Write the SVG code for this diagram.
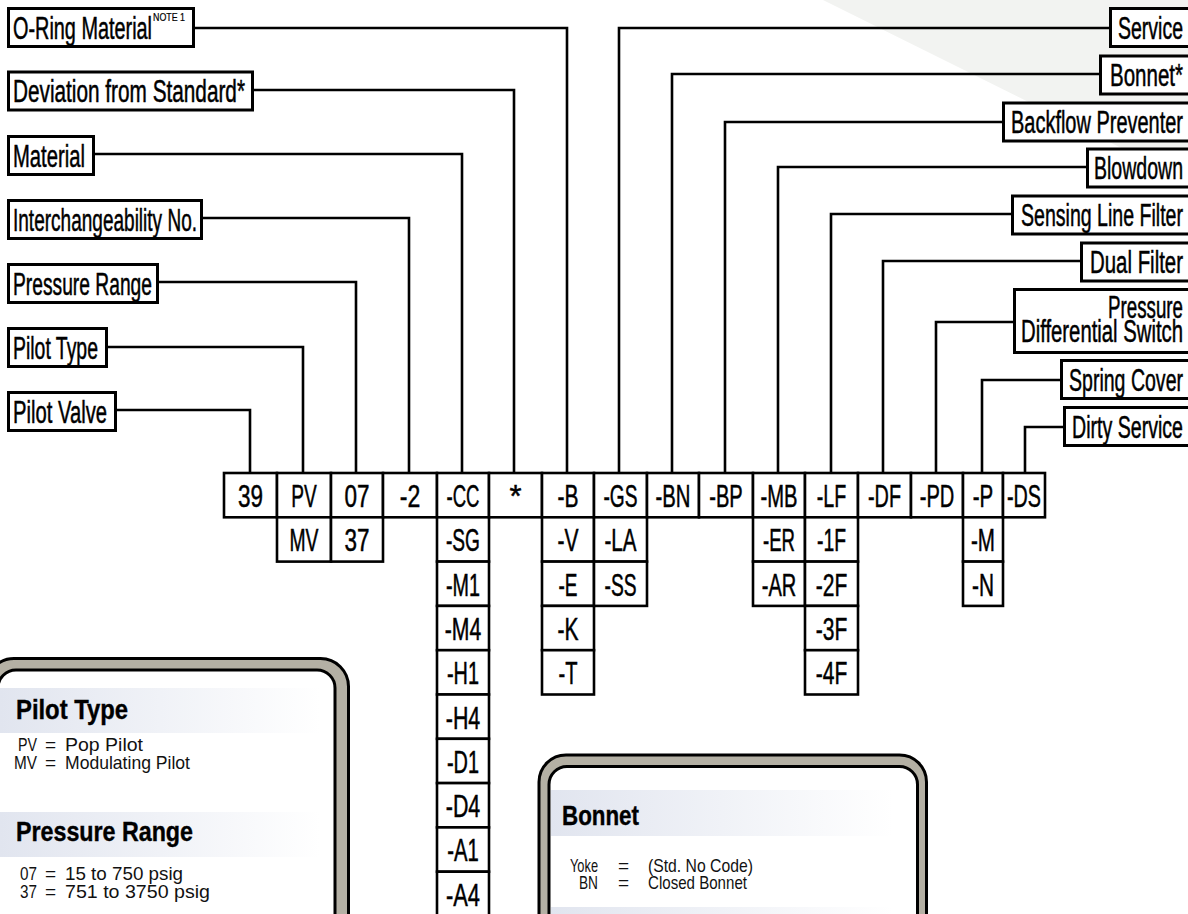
<svg xmlns="http://www.w3.org/2000/svg" width="1188" height="914" viewBox="0 0 1188 914">
<defs>
<style>
.box{fill:#fff;stroke:#000;stroke-width:3}
.t{font-family:"Liberation Sans Narrow","Liberation Sans",Arial,sans-serif;font-size:31px;fill:#000;stroke:#000;stroke-width:0.5}
.tr{text-anchor:end}
.sup{font-size:10px;stroke-width:0.2}
.cell{fill:#fff;stroke:#000;stroke-width:2.6}
.ct{font-family:"Liberation Sans Narrow","Liberation Sans",Arial,sans-serif;font-size:31px;fill:#000;stroke:#000;stroke-width:0.5;text-anchor:middle}
.conn{fill:none;stroke:#000;stroke-width:2.6}
.frame{fill:#b4b0a4;stroke:#000;stroke-width:3}
.inner{fill:#fff;stroke:#000;stroke-width:3}
.h{font-family:"Liberation Sans","Liberation Sans Narrow",Arial,sans-serif;font-weight:bold;font-size:27px;fill:#000;stroke:#000;stroke-width:0.4}
.b{font-family:"Liberation Sans Narrow","Liberation Sans",Arial,sans-serif;font-size:19px;fill:#111}
.e{text-anchor:end}
</style>
<linearGradient id="band" x1="0" y1="0" x2="1" y2="0">
<stop offset="0" stop-color="#e1e5ef"/>
<stop offset="1" stop-color="#ffffff"/>
</linearGradient>
</defs>
<rect x="0" y="0" width="1188" height="914" fill="#fff"/>
<polygon points="823,0 1188,0 1188,181" fill="#f2f3f1"/>

<g id="connectors">
<path class="conn" d="M195,28 H567 V473"/>
<path class="conn" d="M254,90 H514 V473"/>
<path class="conn" d="M95,154 H462 V473"/>
<path class="conn" d="M203,218 H409 V473"/>
<path class="conn" d="M159,282 H356 V473"/>
<path class="conn" d="M108,347 H303 V473"/>
<path class="conn" d="M117,410 H250 V473"/>
<path class="conn" d="M1109,28 H619 V473"/>
<path class="conn" d="M1099,74 H672 V473"/>
<path class="conn" d="M1002,122 H725 V473"/>
<path class="conn" d="M1086,167 H778 V473"/>
<path class="conn" d="M1011,214 H831 V473"/>
<path class="conn" d="M1080,261 H883 V473"/>
<path class="conn" d="M1013,322 H936 V473"/>
<path class="conn" d="M1060,380 H982 V473"/>
<path class="conn" d="M1063,427 H1025 V473"/>
</g>

<g id="lbl-oring"><rect class="box" x="8.5" y="8.5" width="185" height="38"/><text class="t" x="13" y="38.5" textLength="139" lengthAdjust="spacingAndGlyphs">O-Ring Material</text><text class="t sup" x="153" y="21" textLength="32" lengthAdjust="spacingAndGlyphs">NOTE 1</text></g>
<g id="lbl-deviation"><rect class="box" x="8.5" y="72" width="244" height="38"/><text class="t" x="13" y="102" textLength="232" lengthAdjust="spacingAndGlyphs">Deviation from Standard*</text></g>
<g id="lbl-material"><rect class="box" x="8.5" y="136.5" width="85" height="38"/><text class="t" x="13" y="166.5" textLength="72" lengthAdjust="spacingAndGlyphs">Material</text></g>
<g id="lbl-interch"><rect class="box" x="8.5" y="200.5" width="193" height="38"/><text class="t" x="13" y="230.5" textLength="184" lengthAdjust="spacingAndGlyphs">Interchangeability No.</text></g>
<g id="lbl-prange"><rect class="box" x="8.5" y="264.5" width="149" height="38"/><text class="t" x="13" y="294.5" textLength="139" lengthAdjust="spacingAndGlyphs">Pressure Range</text></g>
<g id="lbl-ptype"><rect class="box" x="8.5" y="328.5" width="98" height="38"/><text class="t" x="13" y="358.5" textLength="85" lengthAdjust="spacingAndGlyphs">Pilot Type</text></g>
<g id="lbl-pvalve"><rect class="box" x="8.5" y="392.5" width="107" height="38"/><text class="t" x="13" y="422.5" textLength="94" lengthAdjust="spacingAndGlyphs">Pilot Valve</text></g>

<g id="lbl-service"><rect class="box" x="1110.5" y="8.5" width="90" height="38"/><text class="t tr" x="1183" y="39" textLength="65" lengthAdjust="spacingAndGlyphs">Service</text></g>
<g id="lbl-bonnet"><rect class="box" x="1100.5" y="56" width="100" height="38"/><text class="t tr" x="1183" y="86" textLength="73" lengthAdjust="spacingAndGlyphs">Bonnet*</text></g>
<g id="lbl-backflow"><rect class="box" x="1003.5" y="103" width="197" height="38"/><text class="t tr" x="1183" y="133" textLength="172" lengthAdjust="spacingAndGlyphs">Backflow Preventer</text></g>
<g id="lbl-blowdown"><rect class="box" x="1087.5" y="149" width="113" height="38"/><text class="t tr" x="1183" y="179" textLength="89" lengthAdjust="spacingAndGlyphs">Blowdown</text></g>
<g id="lbl-sensing"><rect class="box" x="1012.5" y="196" width="188" height="38"/><text class="t tr" x="1183" y="226" textLength="162" lengthAdjust="spacingAndGlyphs">Sensing Line Filter</text></g>
<g id="lbl-dual"><rect class="box" x="1081.5" y="243" width="119" height="38"/><text class="t tr" x="1183" y="273" textLength="93" lengthAdjust="spacingAndGlyphs">Dual Filter</text></g>
<g id="lbl-pds"><rect class="box" x="1014.5" y="289.5" width="186" height="63"/><text class="t tr" x="1183" y="318" font-size="27" textLength="75" lengthAdjust="spacingAndGlyphs">Pressure</text><text class="t tr" x="1183" y="342" font-size="27" textLength="162" lengthAdjust="spacingAndGlyphs">Differential Switch</text></g>
<g id="lbl-spring"><rect class="box" x="1061.5" y="360.5" width="139" height="38"/><text class="t tr" x="1183" y="391" textLength="114" lengthAdjust="spacingAndGlyphs">Spring Cover</text></g>
<g id="lbl-dirty"><rect class="box" x="1064.5" y="407.5" width="136" height="38"/><text class="t tr" x="1183" y="438" textLength="111" lengthAdjust="spacingAndGlyphs">Dirty Service</text></g>

<g id="col-39"><rect class="cell" x="224" y="473" width="53" height="44.3"/><text class="ct" x="250.5" y="507" textLength="25" lengthAdjust="spacingAndGlyphs">39</text></g>
<g id="col-pilottype"><rect class="cell" x="277" y="473" width="54" height="44.3"/><rect class="cell" x="277" y="517.3" width="54" height="44.3"/><text class="ct" x="304" y="507" textLength="25.5" lengthAdjust="spacingAndGlyphs">PV</text><text class="ct" x="304" y="551.3" textLength="29" lengthAdjust="spacingAndGlyphs">MV</text></g>
<g id="col-pressure"><rect class="cell" x="331" y="473" width="52" height="44.3"/><rect class="cell" x="331" y="517.3" width="52" height="44.3"/><text class="ct" x="357" y="507" textLength="25" lengthAdjust="spacingAndGlyphs">07</text><text class="ct" x="357" y="551.3" textLength="25" lengthAdjust="spacingAndGlyphs">37</text></g>
<g id="col-interch"><rect class="cell" x="383" y="473" width="54" height="44.3"/><text class="ct" x="410" y="507" textLength="20.5" lengthAdjust="spacingAndGlyphs">-2</text></g>
<g id="col-material">
<rect class="cell" x="437" y="473" width="52" height="44.3"/>
<rect class="cell" x="437" y="517.3" width="52" height="44.3"/>
<rect class="cell" x="437" y="561.6" width="52" height="44.3"/>
<rect class="cell" x="437" y="605.9" width="52" height="44.3"/>
<rect class="cell" x="437" y="650.2" width="52" height="44.3"/>
<rect class="cell" x="437" y="694.5" width="52" height="44.3"/>
<rect class="cell" x="437" y="738.8" width="52" height="44.3"/>
<rect class="cell" x="437" y="783.1" width="52" height="44.3"/>
<rect class="cell" x="437" y="827.4" width="52" height="44.3"/>
<rect class="cell" x="437" y="871.7" width="52" height="44.3"/>
<text class="ct" x="463" y="507" textLength="33" lengthAdjust="spacingAndGlyphs">-CC</text>
<text class="ct" x="463" y="551.3" textLength="34" lengthAdjust="spacingAndGlyphs">-SG</text>
<text class="ct" x="463" y="595.6" textLength="34" lengthAdjust="spacingAndGlyphs">-M1</text>
<text class="ct" x="463" y="639.9" textLength="36.5" lengthAdjust="spacingAndGlyphs">-M4</text>
<text class="ct" x="463" y="684.2" textLength="32" lengthAdjust="spacingAndGlyphs">-H1</text>
<text class="ct" x="463" y="728.5" textLength="34.5" lengthAdjust="spacingAndGlyphs">-H4</text>
<text class="ct" x="463" y="772.8" textLength="32" lengthAdjust="spacingAndGlyphs">-D1</text>
<text class="ct" x="463" y="817.1" textLength="34.5" lengthAdjust="spacingAndGlyphs">-D4</text>
<text class="ct" x="463" y="861.4" textLength="31.5" lengthAdjust="spacingAndGlyphs">-A1</text>
<text class="ct" x="463" y="905.7" textLength="34" lengthAdjust="spacingAndGlyphs">-A4</text>
</g>
<g id="col-deviation"><rect class="cell" x="489" y="473" width="53" height="44.3"/><text class="ct" x="515.5" y="507" font-size="26" stroke-width="0">*</text></g>
<g id="col-oring">
<rect class="cell" x="542" y="473" width="52" height="44.3"/>
<rect class="cell" x="542" y="517.3" width="52" height="44.3"/>
<rect class="cell" x="542" y="561.6" width="52" height="44.3"/>
<rect class="cell" x="542" y="605.9" width="52" height="44.3"/>
<rect class="cell" x="542" y="650.2" width="52" height="44.3"/>
<text class="ct" x="568" y="507" textLength="21" lengthAdjust="spacingAndGlyphs">-B</text>
<text class="ct" x="568" y="551.3" textLength="21" lengthAdjust="spacingAndGlyphs">-V</text>
<text class="ct" x="568" y="595.6" textLength="19" lengthAdjust="spacingAndGlyphs">-E</text>
<text class="ct" x="568" y="639.9" textLength="21" lengthAdjust="spacingAndGlyphs">-K</text>
<text class="ct" x="568" y="684.2" textLength="19" lengthAdjust="spacingAndGlyphs">-T</text>
</g>
<g id="col-service">
<rect class="cell" x="594" y="473" width="53" height="44.3"/>
<rect class="cell" x="594" y="517.3" width="53" height="44.3"/>
<rect class="cell" x="594" y="561.6" width="53" height="44.3"/>
<text class="ct" x="620.5" y="507" textLength="34" lengthAdjust="spacingAndGlyphs">-GS</text>
<text class="ct" x="620.5" y="551.3" textLength="32" lengthAdjust="spacingAndGlyphs">-LA</text>
<text class="ct" x="620.5" y="595.6" textLength="32" lengthAdjust="spacingAndGlyphs">-SS</text>
</g>
<g id="col-bonnet"><rect class="cell" x="647" y="473" width="52" height="44.3"/><text class="ct" x="673" y="507" textLength="35" lengthAdjust="spacingAndGlyphs">-BN</text></g>
<g id="col-backflow"><rect class="cell" x="699" y="473" width="54" height="44.3"/><text class="ct" x="726" y="507" textLength="33.5" lengthAdjust="spacingAndGlyphs">-BP</text></g>
<g id="col-blowdown">
<rect class="cell" x="753" y="473" width="52" height="44.3"/>
<rect class="cell" x="753" y="517.3" width="52" height="44.3"/>
<rect class="cell" x="753" y="561.6" width="52" height="44.3"/>
<text class="ct" x="779" y="507" textLength="37" lengthAdjust="spacingAndGlyphs">-MB</text>
<text class="ct" x="779" y="551.3" textLength="32" lengthAdjust="spacingAndGlyphs">-ER</text>
<text class="ct" x="779" y="595.6" textLength="34.5" lengthAdjust="spacingAndGlyphs">-AR</text>
</g>
<g id="col-sensing">
<rect class="cell" x="805" y="473" width="53" height="44.3"/>
<rect class="cell" x="805" y="517.3" width="53" height="44.3"/>
<rect class="cell" x="805" y="561.6" width="53" height="44.3"/>
<rect class="cell" x="805" y="605.9" width="53" height="44.3"/>
<rect class="cell" x="805" y="650.2" width="53" height="44.3"/>
<text class="ct" x="831.5" y="507" textLength="29.5" lengthAdjust="spacingAndGlyphs">-LF</text>
<text class="ct" x="831.5" y="551.3" textLength="29" lengthAdjust="spacingAndGlyphs">-1F</text>
<text class="ct" x="831.5" y="595.6" textLength="31.5" lengthAdjust="spacingAndGlyphs">-2F</text>
<text class="ct" x="831.5" y="639.9" textLength="31.5" lengthAdjust="spacingAndGlyphs">-3F</text>
<text class="ct" x="831.5" y="684.2" textLength="31.5" lengthAdjust="spacingAndGlyphs">-4F</text>
</g>
<g id="col-dual"><rect class="cell" x="858" y="473" width="53" height="44.3"/><text class="ct" x="884.5" y="507" textLength="33" lengthAdjust="spacingAndGlyphs">-DF</text></g>
<g id="col-pds"><rect class="cell" x="911" y="473" width="52" height="44.3"/><text class="ct" x="937" y="507" textLength="34.5" lengthAdjust="spacingAndGlyphs">-PD</text></g>
<g id="col-spring">
<rect class="cell" x="963" y="473" width="40" height="44.3"/>
<rect class="cell" x="963" y="517.3" width="40" height="44.3"/>
<rect class="cell" x="963" y="561.6" width="40" height="44.3"/>
<text class="ct" x="983" y="507" textLength="20.5" lengthAdjust="spacingAndGlyphs">-P</text>
<text class="ct" x="983" y="551.3" textLength="24" lengthAdjust="spacingAndGlyphs">-M</text>
<text class="ct" x="983" y="595.6" textLength="22" lengthAdjust="spacingAndGlyphs">-N</text>
</g>
<g id="col-dirty"><rect class="cell" x="1003" y="473" width="42" height="44.3"/><text class="ct" x="1024" y="507" textLength="34" lengthAdjust="spacingAndGlyphs">-DS</text></g>

<g id="legend-pilot">
<rect class="frame" x="-14" y="658.5" width="362.5" height="320" rx="28"/>
<rect class="inner" x="-2" y="670" width="337" height="320" rx="18"/>
<rect x="0" y="688" width="320" height="45" fill="url(#band)"/>
<rect x="0" y="812" width="320" height="45" fill="url(#band)"/>
<text class="h" x="16" y="719" textLength="112" lengthAdjust="spacingAndGlyphs">Pilot Type</text>
<text class="b e" x="37" y="751" textLength="19" lengthAdjust="spacingAndGlyphs">PV</text>
<text class="b" x="45" y="751">=</text>
<text class="b" x="65" y="751" textLength="78" lengthAdjust="spacingAndGlyphs">Pop Pilot</text>
<text class="b e" x="37" y="769" textLength="23" lengthAdjust="spacingAndGlyphs">MV</text>
<text class="b" x="45" y="769">=</text>
<text class="b" x="65" y="769" textLength="125" lengthAdjust="spacingAndGlyphs">Modulating Pilot</text>
<text class="h" x="16" y="841" textLength="177" lengthAdjust="spacingAndGlyphs">Pressure Range</text>
<text class="b e" x="37" y="880" textLength="17" lengthAdjust="spacingAndGlyphs">07</text>
<text class="b" x="45" y="880">=</text>
<text class="b" x="65" y="880" textLength="118" lengthAdjust="spacingAndGlyphs">15 to 750 psig</text>
<text class="b e" x="37" y="898" textLength="17" lengthAdjust="spacingAndGlyphs">37</text>
<text class="b" x="45" y="898">=</text>
<text class="b" x="65" y="898" textLength="145" lengthAdjust="spacingAndGlyphs">751 to 3750 psig</text>
</g>

<g id="legend-bonnet">
<rect class="frame" x="539" y="755" width="387.5" height="220" rx="27"/>
<rect class="inner" x="549" y="766.5" width="368.5" height="220" rx="18"/>
<rect x="551" y="790" width="342" height="46" fill="url(#band)"/>
<rect x="551" y="907" width="342" height="46" fill="url(#band)"/>
<text class="h" x="562" y="825" textLength="77" lengthAdjust="spacingAndGlyphs">Bonnet</text>
<text class="b e" x="598" y="872" textLength="28" lengthAdjust="spacingAndGlyphs">Yoke</text>
<text class="b" x="618" y="872">=</text>
<text class="b" x="648" y="872" textLength="105" lengthAdjust="spacingAndGlyphs">(Std. No Code)</text>
<text class="b e" x="598" y="889" textLength="19" lengthAdjust="spacingAndGlyphs">BN</text>
<text class="b" x="618" y="889">=</text>
<text class="b" x="648" y="889" textLength="99" lengthAdjust="spacingAndGlyphs">Closed Bonnet</text>
</g>
</svg>
